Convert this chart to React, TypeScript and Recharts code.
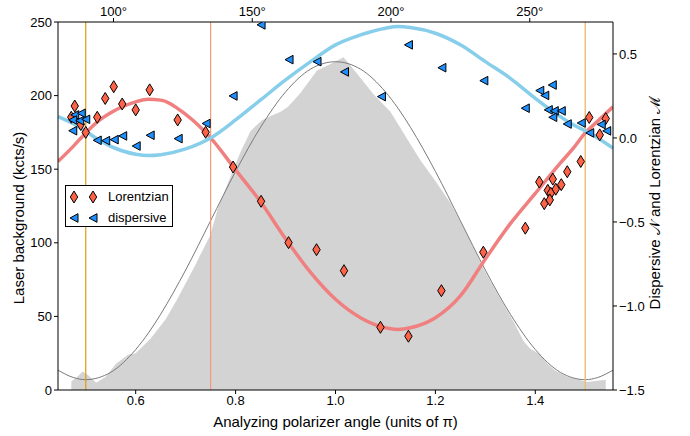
import React from "react";
import {
  ComposedChart,
  XAxis,
  YAxis,
  Area,
  Line,
  Scatter,
  ReferenceLine,
  Legend,
} from "recharts";

const FONT = "'Liberation Sans', Arial, Helvetica, sans-serif";

// analyzing polarizer angle, in units of pi
const angleTicks = [0.6, 0.8, 1.0, 1.2, 1.4];
const degreeTicks = [100, 150, 200, 250];
const countTicks = [0, 50, 100, 150, 200, 250];
const signalTicks = [-1.5, -1.0, -0.5, 0.0, 0.5];

// fitted curves
const fitAngles = [
  0.4444, 0.475, 0.5, 0.525, 0.55, 0.6, 0.625, 0.65, 0.7, 0.75, 0.8, 0.85, 0.9,
  0.95, 1.0, 1.05, 1.1, 1.125, 1.15, 1.2, 1.25, 1.3, 1.35, 1.4, 1.45, 1.475,
  1.5, 1.525, 1.5556,
];
const backgroundFit = [
  13.5, 8.5, 7, 8.3, 12, 27.5, 38.5, 51.5, 81.5, 115, 148.5, 178.5, 202.5, 218,
  223, 218, 202.5, 191.5, 178.5, 148.5, 115, 81.5, 51.5, 27.5, 12, 8.3, 7, 8.5,
  13.5,
];
const lorentzianFit = [
  -0.14, -0.05, 0.03, 0.1, 0.15, 0.215, 0.23, 0.225, 0.14, 0.0, -0.19, -0.38,
  -0.6, -0.8, -0.96, -1.07, -1.13, -1.14, -1.13, -1.07, -0.94, -0.72, -0.51,
  -0.33, -0.15, -0.065, 0.03, 0.1, 0.185,
];
const dispersiveFit = [
  0.127, 0.085, 0.04, -0.01, -0.05, -0.097, -0.105, -0.1, -0.065, 0.0, 0.107,
  0.226, 0.345, 0.454, 0.554, 0.613, 0.653, 0.663, 0.657, 0.623, 0.554, 0.454,
  0.355, 0.236, 0.127, 0.08, 0.042, 0.0, -0.061,
];

// measured laser background (kcts/s)
const backgroundAngles = [
  0.471, 0.4712, 0.48, 0.494, 0.505, 0.521, 0.54, 0.561, 0.585, 0.6, 0.63,
  0.66, 0.682, 0.715, 0.749, 0.765, 0.79, 0.809, 0.83, 0.852, 0.869, 0.89,
  0.905, 0.929, 0.963, 0.993, 1.016, 1.043, 1.076, 1.11, 1.15, 1.17, 1.2, 1.23,
  1.263, 1.297, 1.33, 1.357, 1.377, 1.39, 1.41, 1.424, 1.44, 1.464, 1.504,
  1.537, 1.541, 1.5412,
];
const backgroundCounts = [
  0, 6, 8, 12.5, 10, 5, 9, 18, 24, 25, 35, 48, 61, 82, 105, 124, 145, 161, 176,
  183, 186, 189, 192.5, 201.5, 217, 222, 226, 215, 201, 189, 167, 156, 142, 127,
  106, 82, 62, 46, 33, 28, 24, 18, 13, 9, 5.5, 6.8, 7, 0,
];

// Lorentzian M measurements
const lorentzianAngles = [
  0.478, 0.471, 0.49, 0.5, 0.523, 0.539, 0.556, 0.573, 0.6, 0.628, 0.684, 0.74,
  0.795, 0.851, 0.906, 0.962, 1.017, 1.09, 1.146, 1.212, 1.296, 1.38, 1.408,
  1.435, 1.425, 1.441, 1.452, 1.431, 1.418, 1.429, 1.464, 1.491, 1.508, 1.541,
  1.529,
];
const lorentzianValues = [
  0.19, 0.123, 0.08, 0.033, 0.123, 0.235, 0.305, 0.202, 0.167, 0.286, 0.107,
  0.034, -0.173, -0.377, -0.623, -0.665, -0.79, -1.127, -1.18, -0.909, -0.68,
  -0.537, -0.262, -0.245, -0.312, -0.305, -0.278, -0.329, -0.391, -0.369,
  -0.201, -0.14, 0.122, 0.115, 0.018,
];

// dispersive N measurements
const dispersiveAngles = [
  0.474, 0.478, 0.491, 0.474, 0.488, 0.5, 0.523, 0.54, 0.557, 0.574, 0.601,
  0.629, 0.685, 0.741, 0.795, 0.851, 0.907, 0.963, 1.018, 1.092, 1.146, 1.213,
  1.297, 1.38, 1.409, 1.434, 1.419, 1.426, 1.438, 1.452, 1.435, 1.464, 1.492,
  1.509, 1.532, 1.543,
];
const dispersiveValues = [
  0.043, 0.137, 0.147, 0.107, 0.103, 0.111, -0.014, -0.016, -0.01, 0.012,
  -0.048, 0.016, -0.004, 0.086, 0.25, 0.673, 0.466, 0.454, 0.393, 0.246, 0.554,
  0.418, 0.341, 0.177, 0.282, 0.315, 0.253, 0.167, 0.161, 0.161, 0.123, 0.083,
  0.089, 0.03, 0.08, 0.042,
];

const fitRows = fitAngles.map((x, i) => ({
  x,
  background: backgroundFit[i],
  lorentzian: lorentzianFit[i],
  dispersive: dispersiveFit[i],
}));
const backgroundRows = backgroundAngles.map((x, i) => ({ x, counts: backgroundCounts[i] }));
const lorentzianRows = lorentzianAngles.map((x, i) => ({ x, y: lorentzianValues[i] }));
const dispersiveRows = dispersiveAngles.map((x, i) => ({ x, y: dispersiveValues[i] }));

const DIAMOND_FILL = "#ff6347";
const TRIANGLE_FILL = "#1e90ff";

const Diamond = ({ cx, cy }: any) => (
  <path
    d={`M${cx},${cy - 6}L${cx + 3.7},${cy}L${cx},${cy + 6}L${cx - 3.7},${cy}Z`}
    fill={DIAMOND_FILL}
    stroke="#000"
    strokeWidth={1}
  />
);

const Triangle = ({ cx, cy }: any) => (
  <path
    d={`M${cx - 4},${cy}L${cx + 4},${cy - 4.3}L${cx + 4},${cy + 4.3}Z`}
    fill={TRIANGLE_FILL}
    stroke="#000"
    strokeWidth={1}
  />
);

const minus = (v: number) => (v < 0 ? "\u2212" : "") + Math.abs(v).toFixed(1);

const tickStyle = { fill: "#000", fontSize: 13, fontFamily: FONT };
const LABEL_SIZE = 15;

const LegendBox = () => (
  <div
    style={{
      width: 108,
      height: 42,
      boxSizing: "border-box",
      border: "1px solid #000",
      background: "#fff",
      fontFamily: FONT,
      fontSize: 13,
      position: "relative",
    }}
  >
    <svg width={40} height={42} style={{ position: "absolute", left: 0, top: -1 }}>
      <Diamond cx={8} cy={12} />
      <Diamond cx={27} cy={12} />
      <Triangle cx={8} cy={33} />
      <Triangle cx={27} cy={33} />
    </svg>
    <div style={{ position: "absolute", left: 42, top: 3 }}>Lorentzian</div>
    <div style={{ position: "absolute", left: 42, top: 24 }}>dispersive</div>
  </div>
);

export default function App() {
  return (
    <div style={{ position: "absolute", left: 0, top: 0, background: "#fff" }}>
      <style>{"body{margin:0}"}</style>
      <ComposedChart width={690} height={436} margin={{ top: 0, right: 0, bottom: 0, left: 0 }}>
        <XAxis
          xAxisId="bottom"
          dataKey="x"
          type="number"
          domain={[80 / 180, 280 / 180]}
          allowDataOverflow
          ticks={angleTicks}
          tickFormatter={(v: number) => v.toFixed(1)}
          height={46}
          tickSize={4}
          tickMargin={2}
          tick={tickStyle}
          tickLine={{ stroke: "#000" }}
          axisLine={{ stroke: "#000" }}
          label={(p: any) => (
            <text
              x={p.viewBox.x + p.viewBox.width / 2}
              y={p.viewBox.y + 37}
              textAnchor="middle"
              fontSize={LABEL_SIZE}
              fontFamily={FONT}
              fill="#000"
            >
              Analyzing polarizer angle (units of π)
            </text>
          )}
        />
        <XAxis
          xAxisId="top"
          orientation="top"
          dataKey="x"
          type="number"
          domain={[80 / 180, 280 / 180]}
          allowDataOverflow
          ticks={degreeTicks.map((d) => d / 180)}
          tickFormatter={(v: number) => `${Math.round(v * 180)}°`}
          height={22}
          tickSize={4}
          tickMargin={2}
          tick={tickStyle}
          tickLine={{ stroke: "#000" }}
          axisLine={{ stroke: "#000" }}
        />
        <YAxis
          yAxisId="left"
          type="number"
          domain={[0, 250]}
          allowDataOverflow
          ticks={countTicks}
          width={58}
          tickSize={4}
          tickMargin={2}
          tick={tickStyle}
          tickLine={{ stroke: "#000" }}
          axisLine={{ stroke: "#000" }}
          label={(p: any) => {
            const x = p.viewBox.x + 24;
            const y = p.viewBox.y + p.viewBox.height / 2 + 12;
            return (
              <text
                x={x}
                y={y}
                transform={`rotate(-90 ${x} ${y})`}
                textAnchor="middle"
                fontSize={LABEL_SIZE}
                fontFamily={FONT}
                fill="#000"
              >
                Laser background (kcts/s)
              </text>
            );
          }}
        />
        <YAxis
          yAxisId="right"
          orientation="right"
          type="number"
          domain={[-1.5, 0.69]}
          allowDataOverflow
          ticks={signalTicks}
          tickFormatter={minus}
          width={77}
          tickSize={4}
          tickMargin={2}
          tick={tickStyle}
          tickLine={{ stroke: "#000" }}
          axisLine={{ stroke: "#000" }}
          label={(p: any) => {
            const x = p.viewBox.x + 47;
            const y = p.viewBox.y + p.viewBox.height / 2 - 3;
            return (
              <text
                x={x}
                y={y}
                transform={`rotate(-90 ${x} ${y})`}
                textAnchor="middle"
                fontSize={LABEL_SIZE}
                fontFamily={FONT}
                fill="#000"
              >
                Dispersive 𝒩 and Lorentzian ℳ
              </text>
            );
          }}
        />

        <Area
          data={backgroundRows}
          dataKey="counts"
          xAxisId="bottom"
          yAxisId="left"
          type="linear"
          fill="#d3d3d3"
          fillOpacity={1}
          stroke="none"
          isAnimationActive={false}
          activeDot={false}
        />
        <Line
          data={fitRows}
          dataKey="background"
          xAxisId="bottom"
          yAxisId="left"
          type="monotone"
          stroke="#7a7a7a"
          strokeWidth={1}
          dot={false}
          activeDot={false}
          isAnimationActive={false}
        />

        <ReferenceLine x={0.5} xAxisId="bottom" yAxisId="left" stroke="#e09a10" strokeWidth={1.2} />
        <ReferenceLine x={0.75} xAxisId="bottom" yAxisId="left" stroke="#f59a7c" strokeWidth={1.2} />
        <ReferenceLine x={1.5} xAxisId="bottom" yAxisId="left" stroke="#ecbd72" strokeWidth={1.4} />

        <Line
          data={fitRows}
          dataKey="lorentzian"
          xAxisId="bottom"
          yAxisId="right"
          type="monotone"
          stroke="#f08080"
          strokeWidth={3.5}
          dot={false}
          activeDot={false}
          isAnimationActive={false}
        />
        <Line
          data={fitRows}
          dataKey="dispersive"
          xAxisId="bottom"
          yAxisId="right"
          type="monotone"
          stroke="#87ceeb"
          strokeWidth={3.5}
          dot={false}
          activeDot={false}
          isAnimationActive={false}
        />

        <Scatter
          data={lorentzianRows}
          dataKey="y"
          xAxisId="bottom"
          yAxisId="right"
          shape={Diamond}
          isAnimationActive={false}
        />
        <Scatter
          data={dispersiveRows}
          dataKey="y"
          xAxisId="bottom"
          yAxisId="right"
          shape={Triangle}
          isAnimationActive={false}
        />

        <Legend
          layout="horizontal"
          verticalAlign="middle"
          align="center"
          content={() => <LegendBox />}
          wrapperStyle={{ left: 65, top: 185, width: 108, height: 42 }}
        />
      </ComposedChart>
    </div>
  );
}
